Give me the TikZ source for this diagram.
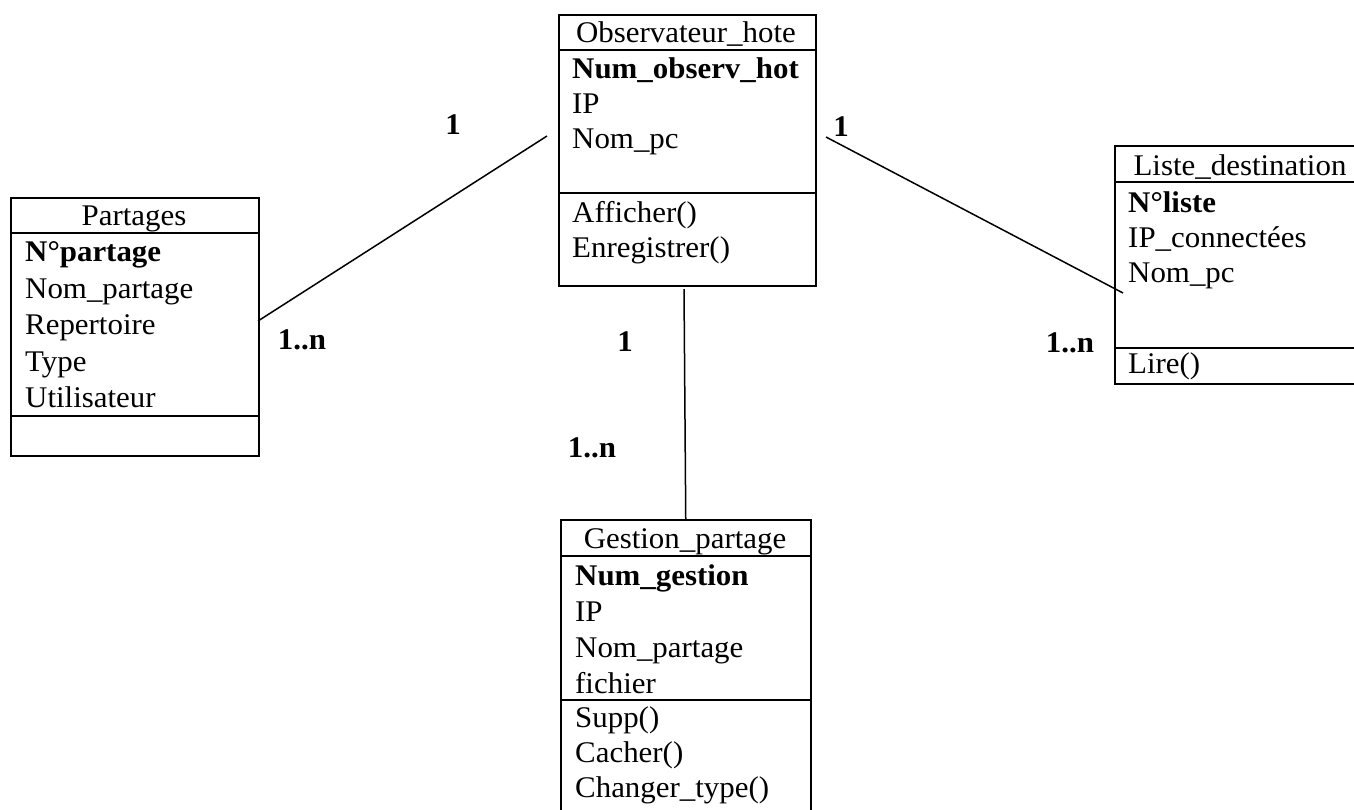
\documentclass[tikz,border=0pt]{standalone}
\usepackage{fontspec}
\setmainfont{Liberation Serif}[FakeStretch=1.03]
\usepackage{tikz}
\usetikzlibrary{positioning}
\usetikzlibrary{calc}
\tikzstyle{classbox}=[draw, anchor=north west, inner sep=0pt, line width=1.5pt]
\tikzstyle{member}=[anchor=base west, inner sep=0pt]
\tikzstyle{title}=[anchor=base, inner sep=0pt]
\tikzstyle{mult}=[inner sep=0pt, font=\fontsize{30}{34}\selectfont\bfseries]
\tikzstyle{link}=[line width=1.5pt]

\begin{document}
\begin{tikzpicture}[x=1pt, y=-1pt, font=\fontsize{30}{34}\selectfont]
    \useasboundingbox (0,0) rectangle (1354,809);

    % Observateur_hote
    \node [classbox, minimum width=257pt, minimum height=271pt] (obs) at (558,14) {};
    \draw [link] ([yshift=-36pt]obs.north west) -- ([yshift=-36pt]obs.north east);
    \draw [link] ([yshift=-179pt]obs.north west) -- ([yshift=-179pt]obs.north east);
    \node [title] (obs-title) at (686,42) {Observateur\_hote};
    \foreach \txt [count=\i] in {\textbf{Num\_observ\_hot}, IP, Nom\_pc}
    \node [member] (obs-attr-\i) at (572,43+35*\i) {\txt};
    \foreach \txt [count=\i] in {Afficher(), Enregistrer()}
    \node [member] (obs-op-\i) at (572,187+35*\i) {\txt};

    % Partages
    \node [classbox, minimum width=248pt, minimum height=258pt] (part) at (10,197) {};
    \draw [link] ([yshift=-36pt]part.north west) -- ([yshift=-36pt]part.north east);
    \draw [link] ([yshift=-219pt]part.north west) -- ([yshift=-219pt]part.north east);
    \node [title] (part-title) at (134,225) {Partages};
    \foreach \txt [count=\i] in {\textbf{N°partage}, Nom\_partage, Repertoire, Type, Utilisateur}
    \node [member] (part-attr-\i) at (25,225+36.5*\i) {\txt};

    % Liste_destination
    \node [classbox, minimum width=252pt, minimum height=238pt] (liste) at (1114,145) {};
    \draw [link] ([yshift=-37pt]liste.north west) -- ([yshift=-37pt]liste.north east);
    \draw [link] ([yshift=-203pt]liste.north west) -- ([yshift=-203pt]liste.north east);
    \node [title] (liste-title) at (1240,175) {Liste\_destination};
    \foreach \txt [count=\i] in {\textbf{N°liste}, IP\_connectées, Nom\_pc}
    \node [member] (liste-attr-\i) at (1128,177+35*\i) {\txt};
    \node [member] (liste-op-1) at (1128,373) {Lire()};

    % Gestion_partage
    \node [classbox, minimum width=250pt, minimum height=293pt] (gest) at (560,519) {};
    \draw [link] ([yshift=-37pt]gest.north west) -- ([yshift=-37pt]gest.north east);
    \draw [link] ([yshift=-181pt]gest.north west) -- ([yshift=-181pt]gest.north east);
    \node [title] (gest-title) at (685,548) {Gestion\_partage};
    \foreach \txt [count=\i] in {\textbf{Num\_gestion}, IP, Nom\_partage, fichier}
    \node [member] (gest-attr-\i) at (575,549+36*\i) {\txt};
    \foreach \txt [count=\i] in {Supp(), Cacher(), Changer\_type()}
    \node [member] (gest-op-\i) at (575,692+35*\i) {\txt};

    % associations
    \coordinate (part-end) at (258,321);
    \coordinate (obs-left) at (547,136);
    \coordinate (obs-right) at (826,137);
    \coordinate (liste-end) at (1123,293);
    \coordinate (obs-bottom) at (684,289);

    \draw [link] (part-end) -- (obs-left);
    \draw [link] (obs-right) -- (liste-end);
    \draw [link] (obs-bottom) -- (gest.north);

    \node [mult] (m-part-obs) at (453,125) {1};
    \node [mult] (m-part) at (302,340) {1..n};
    \node [mult] (m-liste-obs) at (841,127) {1};
    \node [mult] (m-liste) at (1070,343) {1..n};
    \node [mult] (m-gest-obs) at (625,342) {1};
    \node [mult] (m-gest) at (592,448) {1..n};
\end{tikzpicture}
\end{document}
